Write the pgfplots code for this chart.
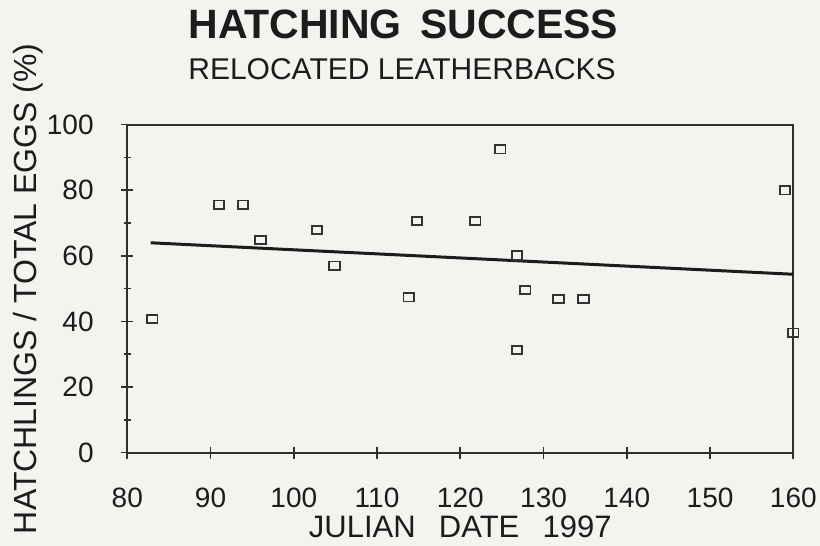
\documentclass[border=0pt]{standalone}
\usepackage{fontspec}
\setmainfont{Liberation Sans}
\usepackage{pgfplots}
\pgfplotsset{compat=1.18}
\definecolor{bg}{RGB}{243,244,240}
\definecolor{ink}{RGB}{28,28,28}
\definecolor{axcol}{RGB}{45,48,45}
\definecolor{mk}{RGB}{50,50,50}
\begin{document}
\begin{tikzpicture}
\path[use as bounding box, fill=bg] (-63.65pt,-46.65pt) rectangle (346.35pt,226.35pt);
\node[anchor=base west, inner sep=0pt, text=ink, font=\fontsize{20.5}{24}\selectfont\bfseries] at (30.35pt,207.3pt) {HATCHING\hspace{0.45em}SUCCESS};
\node[anchor=base west, inner sep=0pt, text=ink, font=\fontsize{15}{18}\selectfont] at (30.35pt,186.8pt) {RELOCATED LEATHERBACKS};
\begin{axis}[
  at={(0pt,0pt)}, anchor=south west,
  scale only axis, width=333pt, height=164pt,
  xmin=80, xmax=160, ymin=0, ymax=100,
  xtick={80,90,...,160}, ytick={0,20,...,100},
  minor y tick num=1,
  tick pos=left, tick align=center,
  major tick length=6pt, minor tick length=3.5pt,
  axis line style={axcol, line width=0.9pt},
  every tick/.style={axcol, line width=0.8pt},
  /pgf/number format/assume math mode=true,
  tick label style={text=ink, font=\fontsize{14}{16}\selectfont, inner sep=0pt},
  every x tick label/.append style={anchor=base, yshift=-24.4pt},
  every y tick label/.append style={anchor=east, xshift=-13.65pt},
  xlabel={JULIAN\hspace{0.75em}DATE\hspace{0.75em}1997},
  ylabel={HATCHLINGS / TOTAL EGGS (\%)},
  xlabel style={at={(axis description cs:0.5,-0.26)}, anchor=base, inner sep=0pt, text=ink, font=\fontsize{15.5}{18}\selectfont},
  ylabel style={at={(axis description cs:-0.1356,0.5)}, anchor=base, inner sep=0pt, text=ink, font=\fontsize{16}{18}\selectfont},
  clip=false,
]
\addplot[only marks, mark=square, mark size=2.1pt, mark options={xscale=1.25, draw=mk, line width=0.9pt, fill=none}] coordinates {
(83,40.8) (91,75.6) (93.9,75.6) (96,64.8) (102.8,67.9) (104.9,57.0)
(113.8,47.4) (114.8,70.6) (121.8,70.6) (124.8,92.5) (126.8,60.1)
(126.8,31.3) (127.8,49.6) (131.8,46.8) (134.8,46.9) (159,80.0) (160,36.6)
};
\addplot[ink, line width=1.5pt, no marks] coordinates {(82.8,64.0) (160,54.4)};
\end{axis}
\end{tikzpicture}
\end{document}
